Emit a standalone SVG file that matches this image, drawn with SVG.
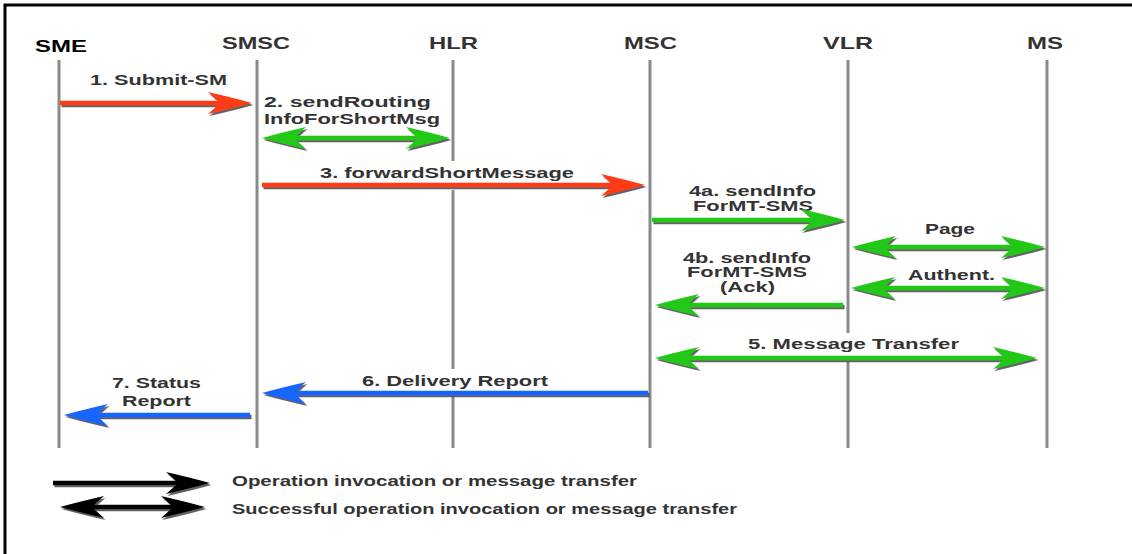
<svg xmlns="http://www.w3.org/2000/svg" xmlns:xlink="http://www.w3.org/1999/xlink" width="1132" height="554" viewBox="0 0 1132 554">
<style>
.t{font-family:"Liberation Sans",Arial,sans-serif;font-weight:bold;font-size:14px;fill:#333}
.h{font-size:17px}
.lg{font-size:15px}
.life{stroke:#8a8a8a;stroke-width:3}
.a line{stroke-width:4.5}
.a use{stroke:none}
.r{fill:#ff3a12;stroke:#ff3a12}
.g{fill:#22c814;stroke:#22c814}
.b{fill:#1565ff;stroke:#1565ff}
.k{fill:#000;stroke:#000}
.bg{fill:#fff}
</style>
<defs>
<path id="ah" d="M0,0 Q-18,-5 -44,-11 Q-36,-4 -32,0 Q-36,4 -44,11 Q-18,5 0,0Z"/>
<filter id="sh" x="-5%" y="-50%" width="110%" height="200%">
<feDropShadow dx="1.5" dy="2" stdDeviation="0.7" flood-color="#444" flood-opacity="0.85"/>
</filter>
</defs>
<rect width="1132" height="554" fill="#fff"/>
<path d="M5,554 V5 H1132" fill="none" stroke="#000" stroke-width="3"/>

<g id="SME"><text class="t h" x="35" y="52" textLength="52" lengthAdjust="spacingAndGlyphs" style="fill:#000">SME</text><line class="life" x1="59" y1="60" x2="59" y2="448"/></g>
<g id="SMSC"><text class="t h" x="222" y="49" textLength="68" lengthAdjust="spacingAndGlyphs">SMSC</text><line class="life" x1="257" y1="60" x2="257" y2="448"/></g>
<g id="HLR"><text class="t h" x="429" y="49" textLength="49" lengthAdjust="spacingAndGlyphs">HLR</text><line class="life" x1="453" y1="60" x2="453" y2="448"/></g>
<g id="MSC"><text class="t h" x="624" y="49" textLength="53" lengthAdjust="spacingAndGlyphs">MSC</text><line class="life" x1="650" y1="60" x2="650" y2="448"/></g>
<g id="VLR"><text class="t h" x="823" y="49" textLength="50" lengthAdjust="spacingAndGlyphs">VLR</text><line class="life" x1="848" y1="60" x2="848" y2="448"/></g>
<g id="MS"><text class="t h" x="1027" y="49" textLength="36" lengthAdjust="spacingAndGlyphs">MS</text><line class="life" x1="1047" y1="60" x2="1047" y2="448"/></g>

<g id="labels">
<rect class="bg" x="315" y="161" width="265" height="29"/>
<rect class="bg" x="744" y="333" width="220" height="29"/>
<rect class="bg" x="357" y="369" width="196" height="27"/>
<text class="t" x="90" y="85" textLength="137" lengthAdjust="spacingAndGlyphs">1. Submit-SM</text>
<text class="t" x="264" y="107" textLength="167" lengthAdjust="spacingAndGlyphs">2. sendRouting</text>
<text class="t" x="264" y="124" textLength="176" lengthAdjust="spacingAndGlyphs">InfoForShortMsg</text>
<text class="t" x="320" y="178" textLength="254" lengthAdjust="spacingAndGlyphs">3. forwardShortMessage</text>
<text class="t" x="689" y="196" textLength="127" lengthAdjust="spacingAndGlyphs">4a. sendInfo</text>
<text class="t" x="693" y="211" textLength="120" lengthAdjust="spacingAndGlyphs">ForMT-SMS</text>
<text class="t" x="925" y="234" textLength="50" lengthAdjust="spacingAndGlyphs">Page</text>
<text class="t" x="908" y="280" textLength="87" lengthAdjust="spacingAndGlyphs">Authent.</text>
<text class="t" x="683" y="263" textLength="128" lengthAdjust="spacingAndGlyphs">4b. sendInfo</text>
<text class="t" x="687" y="277" textLength="120" lengthAdjust="spacingAndGlyphs">ForMT-SMS</text>
<text class="t" x="720" y="292" textLength="55" lengthAdjust="spacingAndGlyphs">(Ack)</text>
<text class="t" x="748" y="349" textLength="211" lengthAdjust="spacingAndGlyphs">5. Message Transfer</text>
<text class="t" x="362" y="386" textLength="186" lengthAdjust="spacingAndGlyphs">6. Delivery Report</text>
<text class="t" x="112" y="388" textLength="89" lengthAdjust="spacingAndGlyphs">7. Status</text>
<text class="t" x="122" y="406" textLength="69" lengthAdjust="spacingAndGlyphs">Report</text>
<text class="t lg" x="232" y="486" textLength="405" lengthAdjust="spacingAndGlyphs">Operation invocation or message transfer</text>
<text class="t lg" x="232" y="514" textLength="505" lengthAdjust="spacingAndGlyphs">Successful operation invocation or message transfer</text>
</g>

<g id="connectors" filter="url(#sh)">
<g class="a r"><line x1="60" y1="103" x2="222" y2="103"/><use xlink:href="#ah" href="#ah" transform="translate(252,103)"/></g>
<g class="a g"><line x1="292" y1="138" x2="420" y2="138"/><use xlink:href="#ah" href="#ah" transform="translate(450,138)"/><use xlink:href="#ah" href="#ah" transform="translate(262,138) scale(-1,1)"/></g>
<g class="a r"><line x1="262" y1="185" x2="615" y2="185"/><use xlink:href="#ah" href="#ah" transform="translate(645,185)"/></g>
<g class="a g"><line x1="652" y1="220" x2="815" y2="220"/><use xlink:href="#ah" href="#ah" transform="translate(845,220)"/></g>
<g class="a g"><line x1="882" y1="247" x2="1015" y2="247"/><use xlink:href="#ah" href="#ah" transform="translate(1045,247)"/><use xlink:href="#ah" href="#ah" transform="translate(852,247) scale(-1,1)"/></g>
<g class="a g"><line x1="881" y1="288" x2="1015" y2="288"/><use xlink:href="#ah" href="#ah" transform="translate(1045,288)"/><use xlink:href="#ah" href="#ah" transform="translate(851,288) scale(-1,1)"/></g>
<g class="a g"><line x1="685" y1="305" x2="843" y2="305"/><use xlink:href="#ah" href="#ah" transform="translate(655,305) scale(-1,1)"/></g>
<g class="a g"><line x1="685" y1="358" x2="1007" y2="358"/><use xlink:href="#ah" href="#ah" transform="translate(1037,358)"/><use xlink:href="#ah" href="#ah" transform="translate(655,358) scale(-1,1)"/></g>
<g class="a b"><line x1="292" y1="393" x2="648" y2="393"/><use xlink:href="#ah" href="#ah" transform="translate(262,393) scale(-1,1)"/></g>
<g class="a b"><line x1="94" y1="415" x2="250" y2="415"/><use xlink:href="#ah" href="#ah" transform="translate(64,415) scale(-1,1)"/></g>
<g class="a k"><line x1="53" y1="483" x2="180" y2="483"/><use xlink:href="#ah" href="#ah" transform="translate(210,483)"/></g>
<g class="a k"><line x1="90" y1="507" x2="175" y2="507"/><use xlink:href="#ah" href="#ah" transform="translate(205,507)"/><use xlink:href="#ah" href="#ah" transform="translate(60,507) scale(-1,1)"/></g>
</g>
</svg>
